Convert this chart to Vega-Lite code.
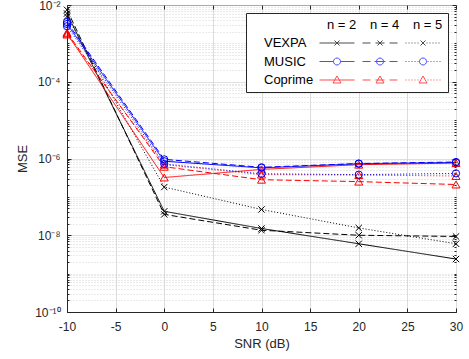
{
  "$schema": "https://vega.github.io/schema/vega-lite/v6.json",
  "width": 389,
  "height": 307,
  "autosize": {"type": "none"},
  "padding": {"left": 67, "top": 5, "right": 13, "bottom": 47},
  "config": {
    "view": {"stroke": "#262626", "strokeWidth": 1},
    "font": "Liberation Sans",
    "axis": {"labelFont": "Liberation Sans", "titleFont": "Liberation Sans", "labelColor": "#262626", "titleColor": "#262626", "titleFontWeight": "normal"}
  },
  "data": {
    "values": [
      {"method": "VEXPA", "n": 2, "series": "VEXPA|2", "snr": -10, "mse": 6e-3},
      {"method": "VEXPA", "n": 2, "series": "VEXPA|2", "snr": 0, "mse": 4.2e-8},
      {"method": "VEXPA", "n": 2, "series": "VEXPA|2", "snr": 10, "mse": 1.5e-8},
      {"method": "VEXPA", "n": 2, "series": "VEXPA|2", "snr": 20, "mse": 6e-9},
      {"method": "VEXPA", "n": 2, "series": "VEXPA|2", "snr": 30, "mse": 2.4e-9},
      {"method": "VEXPA", "n": 4, "series": "VEXPA|4", "snr": -10, "mse": 7.5e-3},
      {"method": "VEXPA", "n": 4, "series": "VEXPA|4", "snr": 0, "mse": 3.5e-8},
      {"method": "VEXPA", "n": 4, "series": "VEXPA|4", "snr": 10, "mse": 1.35e-8},
      {"method": "VEXPA", "n": 4, "series": "VEXPA|4", "snr": 20, "mse": 1.0e-8},
      {"method": "VEXPA", "n": 4, "series": "VEXPA|4", "snr": 30, "mse": 9.3e-9},
      {"method": "VEXPA", "n": 5, "series": "VEXPA|5", "snr": -10, "mse": 5e-3},
      {"method": "VEXPA", "n": 5, "series": "VEXPA|5", "snr": 0, "mse": 1.8e-7},
      {"method": "VEXPA", "n": 5, "series": "VEXPA|5", "snr": 10, "mse": 4.7e-8},
      {"method": "VEXPA", "n": 5, "series": "VEXPA|5", "snr": 20, "mse": 1.55e-8},
      {"method": "VEXPA", "n": 5, "series": "VEXPA|5", "snr": 30, "mse": 6e-9},
      {"method": "Coprime", "n": 2, "series": "Coprime|2", "snr": -10, "mse": 1.8e-3},
      {"method": "Coprime", "n": 2, "series": "Coprime|2", "snr": 0, "mse": 3.2e-7},
      {"method": "Coprime", "n": 2, "series": "Coprime|2", "snr": 10, "mse": 5.2e-7},
      {"method": "Coprime", "n": 2, "series": "Coprime|2", "snr": 20, "mse": 6.9e-7},
      {"method": "Coprime", "n": 2, "series": "Coprime|2", "snr": 30, "mse": 7.6e-7},
      {"method": "Coprime", "n": 4, "series": "Coprime|4", "snr": -10, "mse": 1.9e-3},
      {"method": "Coprime", "n": 4, "series": "Coprime|4", "snr": 0, "mse": 6.1e-7},
      {"method": "Coprime", "n": 4, "series": "Coprime|4", "snr": 10, "mse": 2.8e-7},
      {"method": "Coprime", "n": 4, "series": "Coprime|4", "snr": 20, "mse": 2.5e-7},
      {"method": "Coprime", "n": 4, "series": "Coprime|4", "snr": 30, "mse": 2.1e-7},
      {"method": "Coprime", "n": 5, "series": "Coprime|5", "snr": -10, "mse": 1.7e-3},
      {"method": "Coprime", "n": 5, "series": "Coprime|5", "snr": 0, "mse": 6.9e-7},
      {"method": "Coprime", "n": 5, "series": "Coprime|5", "snr": 10, "mse": 3.8e-7},
      {"method": "Coprime", "n": 5, "series": "Coprime|5", "snr": 20, "mse": 3.7e-7},
      {"method": "Coprime", "n": 5, "series": "Coprime|5", "snr": 30, "mse": 3.5e-7},
      {"method": "MUSIC", "n": 2, "series": "MUSIC|2", "snr": -10, "mse": 3.2e-3},
      {"method": "MUSIC", "n": 2, "series": "MUSIC|2", "snr": 0, "mse": 8.5e-7},
      {"method": "MUSIC", "n": 2, "series": "MUSIC|2", "snr": 10, "mse": 5.7e-7},
      {"method": "MUSIC", "n": 2, "series": "MUSIC|2", "snr": 20, "mse": 7.3e-7},
      {"method": "MUSIC", "n": 2, "series": "MUSIC|2", "snr": 30, "mse": 7.9e-7},
      {"method": "MUSIC", "n": 4, "series": "MUSIC|4", "snr": -10, "mse": 3.6e-3},
      {"method": "MUSIC", "n": 4, "series": "MUSIC|4", "snr": 0, "mse": 9.5e-7},
      {"method": "MUSIC", "n": 4, "series": "MUSIC|4", "snr": 10, "mse": 5.9e-7},
      {"method": "MUSIC", "n": 4, "series": "MUSIC|4", "snr": 20, "mse": 7.4e-7},
      {"method": "MUSIC", "n": 4, "series": "MUSIC|4", "snr": 30, "mse": 8.1e-7},
      {"method": "MUSIC", "n": 5, "series": "MUSIC|5", "snr": -10, "mse": 2.8e-3},
      {"method": "MUSIC", "n": 5, "series": "MUSIC|5", "snr": 0, "mse": 7.2e-7},
      {"method": "MUSIC", "n": 5, "series": "MUSIC|5", "snr": 10, "mse": 4.0e-7},
      {"method": "MUSIC", "n": 5, "series": "MUSIC|5", "snr": 20, "mse": 3.8e-7},
      {"method": "MUSIC", "n": 5, "series": "MUSIC|5", "snr": 30, "mse": 4.1e-7}
    ]
  },
  "layer": [
    {
      "mark": {"type": "line", "strokeWidth": 1},
      "encoding": {
        "x": {
          "field": "snr", "type": "quantitative",
          "scale": {"domain": [-10, 30], "nice": false, "zero": false},
          "axis": {
            "orient": "bottom", "values": [-10, -5, 0, 5, 10, 15, 20, 25, 30],
            "title": "SNR (dB)", "titleFontSize": 13, "titlePadding": 5,
            "labelExpr": "'' + datum.value", "labelFontSize": 12, "labelFlush": false, "labelPadding": 13,
            "grid": true, "gridColor": "#dcdcdc", "gridWidth": 1,
            "ticks": true, "tickSize": -4, "tickColor": "#262626",
            "domain": true, "domainColor": "#262626"
          }
        },
        "y": {
          "field": "mse", "type": "quantitative",
          "scale": {"type": "log", "domain": [1e-10, 1e-2], "nice": false},
          "axis": {
            "orient": "left",
            "values": [1e-10,2e-10,3e-10,4e-10,5e-10,6e-10,7e-10,8e-10,9e-10,1e-9,2e-9,3e-9,4e-9,5e-9,6e-9,7e-9,8e-9,9e-9,1e-8,2e-8,3e-8,4e-8,5e-8,6e-8,7e-8,8e-8,9e-8,1e-7,2e-7,3e-7,4e-7,5e-7,6e-7,7e-7,8e-7,9e-7,1e-6,2e-6,3e-6,4e-6,5e-6,6e-6,7e-6,8e-6,9e-6,1e-5,2e-5,3e-5,4e-5,5e-5,6e-5,7e-5,8e-5,9e-5,1e-4,2e-4,3e-4,4e-4,5e-4,6e-4,7e-4,8e-4,9e-4,1e-3,2e-3,3e-3,4e-3,5e-3,6e-3,7e-3,8e-3,9e-3,1e-2],
            "title": "MSE", "titleFontSize": 13, "titlePadding": 5,
            "labelExpr": "datum.value == 1e-2 ? '10⁻²' : datum.value == 1e-4 ? '10⁻⁴' : datum.value == 1e-6 ? '10⁻⁶' : datum.value == 1e-8 ? '10⁻⁸' : datum.value == 1e-10 ? '10⁻¹⁰' : ''",
            "labelFontSize": 12, "labelFlush": false, "labelOverlap": false, "labelPadding": 11,
            "grid": true,
            "gridColor": "#d4d4d4",
            "gridDash": {"condition": {"test": "indexof([1e-10,1e-8,1e-6,1e-4,1e-2], datum.value) >= 0", "value": [1, 0]}, "value": [1, 2]},
            "ticks": true,
            "tickSize": {"condition": {"test": "indexof([1e-10,1e-8,1e-6,1e-4,1e-2], datum.value) >= 0", "value": -4}, "value": -2},
            "tickColor": "#262626",
            "domain": true, "domainColor": "#262626"
          }
        },
        "color": {"field": "method", "type": "nominal", "scale": {"domain": ["VEXPA", "MUSIC", "Coprime"], "range": ["#000000", "#0000ff", "#ff0000"]}, "legend": null},
        "strokeDash": {"field": "n", "type": "nominal", "scale": {"domain": [2, 4, 5], "range": [[1, 0], [6, 3], [1, 2]]}, "legend": null},
        "detail": {"field": "series"}
      }
    },
    {
      "mark": {"type": "point", "filled": false, "strokeWidth": 1, "opacity": 1},
      "encoding": {
        "x": {
          "field": "snr", "type": "quantitative",
          "scale": {"domain": [-10, 30], "nice": false, "zero": false},
          "axis": {"orient": "top", "values": [-10, -5, 0, 5, 10, 15, 20, 25, 30], "title": null, "labels": false, "grid": false, "ticks": true, "tickSize": -4, "tickColor": "#262626", "domain": false}
        },
        "y": {
          "field": "mse", "type": "quantitative",
          "scale": {"type": "log", "domain": [1e-10, 1e-2], "nice": false},
          "axis": {
            "orient": "right",
            "values": [1e-10,2e-10,3e-10,4e-10,5e-10,6e-10,7e-10,8e-10,9e-10,1e-9,2e-9,3e-9,4e-9,5e-9,6e-9,7e-9,8e-9,9e-9,1e-8,2e-8,3e-8,4e-8,5e-8,6e-8,7e-8,8e-8,9e-8,1e-7,2e-7,3e-7,4e-7,5e-7,6e-7,7e-7,8e-7,9e-7,1e-6,2e-6,3e-6,4e-6,5e-6,6e-6,7e-6,8e-6,9e-6,1e-5,2e-5,3e-5,4e-5,5e-5,6e-5,7e-5,8e-5,9e-5,1e-4,2e-4,3e-4,4e-4,5e-4,6e-4,7e-4,8e-4,9e-4,1e-3,2e-3,3e-3,4e-3,5e-3,6e-3,7e-3,8e-3,9e-3,1e-2],
            "title": null, "labels": false, "grid": false, "domain": false,
            "ticks": true,
            "tickSize": {"condition": {"test": "indexof([1e-10,1e-8,1e-6,1e-4,1e-2], datum.value) >= 0", "value": -4}, "value": -2},
            "tickColor": "#262626"
          }
        },
        "color": {"field": "method", "type": "nominal", "scale": {"domain": ["VEXPA", "MUSIC", "Coprime"], "range": ["#000000", "#0000ff", "#ff0000"]}, "legend": null},
        "shape": {"field": "method", "type": "nominal", "scale": {"domain": ["VEXPA", "MUSIC", "Coprime"], "range": ["M-1,-1L1,1M-1,1L1,-1", "circle", "triangle-up"]}, "legend": null},
        "size": {"field": "method", "type": "nominal", "scale": {"domain": ["VEXPA", "MUSIC", "Coprime"], "range": [40, 64, 64]}, "legend": null}
      }
    },
    {
      "transform": [{"filter": "false"}],
      "mark": {"type": "point", "filled": false, "strokeWidth": 1},
      "encoding": {
        "shape": {
          "field": "series", "type": "nominal",
          "scale": {
            "domain": ["blank", "VEXPA", "MUSIC", "Coprime", "n = 2", "VEXPA|2", "MUSIC|2", "Coprime|2", "n = 4", "VEXPA|4", "MUSIC|4", "Coprime|4", "n = 5", "VEXPA|5", "MUSIC|5", "Coprime|5"],
            "range": [
              "M0,0", "M0,0", "M0,0", "M0,0",
              "M0,0",
              "M-1,0H34M14,-2.5L19,2.5M14,2.5L19,-2.5",
              "M-1,0H13M20,0H34M13,0A3.5,3.5 0 1 0 20,0A3.5,3.5 0 1 0 13,0",
              "M-1,0H34M16.5,-4L20.5,3L12.5,3Z",
              "M0,0",
              "M-1,0H7M12,0H21M26,0H34M14,-2.5L19,2.5M14,2.5L19,-2.5",
              "M-1,0H7M11,0H22M26,0H34M13,0A3.5,3.5 0 1 0 20,0A3.5,3.5 0 1 0 13,0",
              "M-1,0H7M12,0H21M26,0H34M16.5,-4L20.5,3L12.5,3Z",
              "M0,0",
              "M-1,0h1M2,0h1M5,0h1M8,0h1M11,0h1M20,0h1M23,0h1M26,0h1M29,0h1M32,0h1M14,-2.5L19,2.5M14,2.5L19,-2.5",
              "M-1,0h1M2,0h1M5,0h1M8,0h1M11,0h1M21,0h1M24,0h1M27,0h1M30,0h1M33,0h1M13,0A3.5,3.5 0 1 0 20,0A3.5,3.5 0 1 0 13,0",
              "M-1,0h1M2,0h1M5,0h1M8,0h1M11,0h1M21,0h1M24,0h1M27,0h1M30,0h1M33,0h1M16.5,-4L20.5,3L12.5,3Z"
            ]
          },
          "legend": {
            "title": null, "orient": "top-right", "offset": 8, "columns": 4,
            "padding": 5, "rowPadding": 4.5, "columnPadding": 0,
            "symbolSize": 4, "symbolStrokeWidth": 1,
            "labelFontSize": 13, "labelFont": "Liberation Sans", "labelColor": "#000000", "labelAlign": "left", "labelOffset": 0, "labelLimit": 0,
            "labelExpr": "datum.label == 'blank' || indexof(datum.label, '|') >= 0 ? '' : (datum.label == 'VEXPA' || datum.label == 'MUSIC') ? datum.label + '\u00a0' : datum.label",
            "strokeColor": "#262626", "fillColor": "#ffffff", "cornerRadius": 0
          }
        },
        "color": {
          "field": "series", "type": "nominal",
          "scale": {
            "domain": ["blank", "VEXPA", "MUSIC", "Coprime", "n = 2", "VEXPA|2", "MUSIC|2", "Coprime|2", "n = 4", "VEXPA|4", "MUSIC|4", "Coprime|4", "n = 5", "VEXPA|5", "MUSIC|5", "Coprime|5"],
            "range": ["#000000", "#000000", "#000000", "#000000", "#000000", "#000000", "#0000ff", "#ff0000", "#000000", "#000000", "#0000ff", "#ff0000", "#000000", "#000000", "#0000ff", "#ff0000"]
          },
          "legend": {
            "title": null, "orient": "top-right", "offset": 8, "columns": 4,
            "padding": 5, "rowPadding": 4.5, "columnPadding": 0,
            "symbolSize": 4, "symbolStrokeWidth": 1,
            "labelFontSize": 13, "labelFont": "Liberation Sans", "labelColor": "#000000", "labelAlign": "left", "labelOffset": 0, "labelLimit": 0,
            "labelExpr": "datum.label == 'blank' || indexof(datum.label, '|') >= 0 ? '' : (datum.label == 'VEXPA' || datum.label == 'MUSIC') ? datum.label + '\u00a0' : datum.label",
            "strokeColor": "#262626", "fillColor": "#ffffff", "cornerRadius": 0
          }
        }
      }
    }
  ],
  "resolve": {
    "scale": {"color": "independent", "shape": "independent"},
    "axis": {"x": "independent", "y": "independent"}
  }
}
